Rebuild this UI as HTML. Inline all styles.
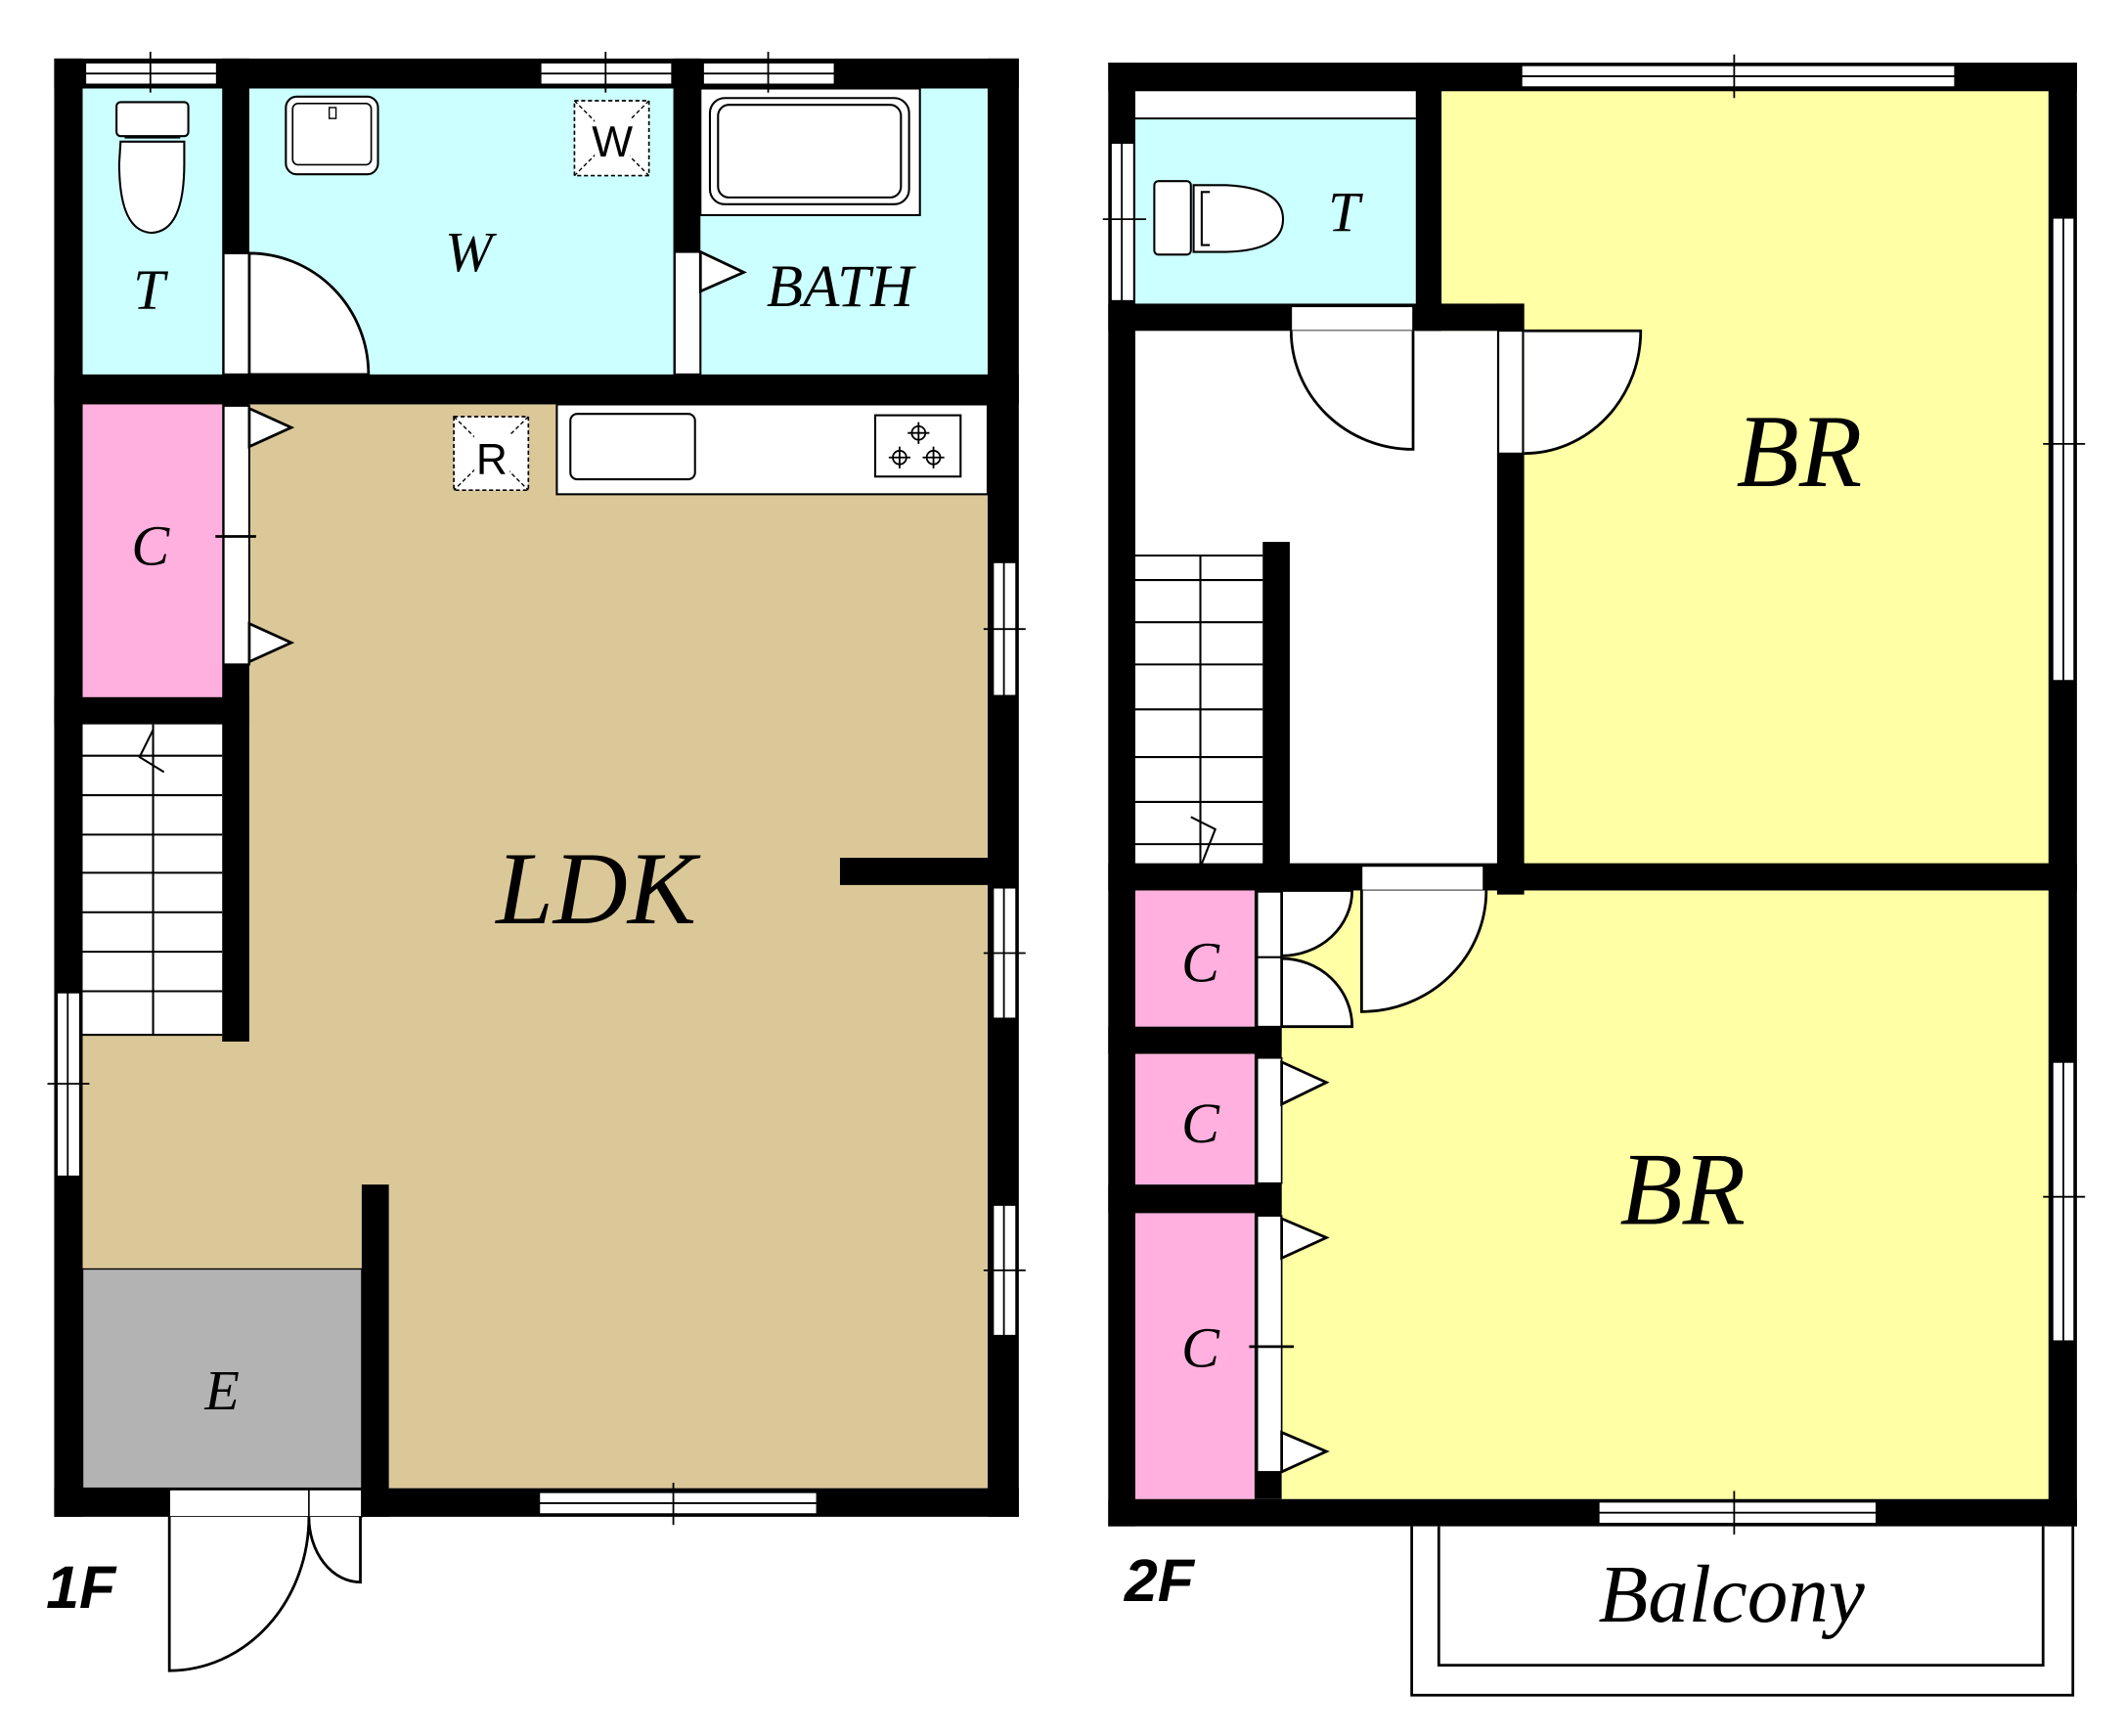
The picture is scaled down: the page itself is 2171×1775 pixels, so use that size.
<!DOCTYPE html>
<html><head><meta charset="utf-8"><style>
html,body{margin:0;padding:0;background:#fff;}
svg{display:block;}
.lbl{font-family:"Liberation Serif",serif;font-style:italic;fill:#000;}
.fl{font-family:"Liberation Sans",sans-serif;font-style:italic;font-weight:bold;fill:#000;}
</style></head><body>
<svg width="2171" height="1775" viewBox="0 0 1567 1275" preserveAspectRatio="none" xmlns="http://www.w3.org/2000/svg">
<!-- ============ 1F ============ -->
<rect x="61" y="65" width="668" height="212" fill="#ccffff"/>
<rect x="184" y="297" width="545" height="796" fill="#dbc899"/>
<rect x="61" y="760" width="206" height="175" fill="#dbc899"/>
<rect x="61" y="297" width="103" height="215" fill="#ffb0de"/>
<rect x="61" y="932" width="206" height="161" fill="#b3b3b3" stroke="#000" stroke-width="1"/>
<rect x="61" y="532" width="103" height="228" fill="#fff"/>
<g stroke="#000" stroke-width="1.5">
<line x1="113" y1="532" x2="113" y2="760"/>
<line x1="61" y1="555" x2="164" y2="555"/>
<line x1="61" y1="584" x2="164" y2="584"/>
<line x1="61" y1="613" x2="164" y2="613"/>
<line x1="61" y1="641" x2="164" y2="641"/>
<line x1="61" y1="670" x2="164" y2="670"/>
<line x1="61" y1="699" x2="164" y2="699"/>
<line x1="61" y1="728" x2="164" y2="728"/>
<line x1="61" y1="760" x2="164" y2="760"/>
<polyline points="113,536 103,556 121,567" fill="none"/>
</g>
<g fill="#000">
<rect x="40" y="43" width="712" height="22"/>
<rect x="40" y="1093" width="712" height="21"/>
<rect x="40" y="43" width="21" height="1071"/>
<rect x="729" y="43" width="23" height="1071"/>
<rect x="40" y="275" width="712" height="22"/>
<rect x="164" y="43" width="20" height="722"/>
<rect x="497" y="43" width="20" height="234"/>
<rect x="40" y="512" width="144" height="20"/>
<rect x="267" y="870" width="20" height="244"/>
<rect x="620" y="630" width="110" height="20"/>
</g>
<rect x="165" y="186" width="19" height="89" fill="#fff" stroke="#000" stroke-width="1.5"/>
<path d="M184 186 A88 89 0 0 1 272 275 L184 275 Z" fill="#fff" stroke="#000" stroke-width="2"/>
<rect x="498" y="185" width="19" height="90" fill="#fff" stroke="#000" stroke-width="1.5"/>
<polygon points="517,185 549,200 517,214" fill="#fff" stroke="#000" stroke-width="2"/>
<rect x="165" y="298" width="19" height="190" fill="#fff" stroke="#000" stroke-width="1.5"/>
<polygon points="184,300 215,314 184,328" fill="#fff" stroke="#000" stroke-width="2"/>
<polygon points="184,458 215,472 184,486" fill="#fff" stroke="#000" stroke-width="2"/>
<line x1="159" y1="394" x2="189" y2="394" stroke="#000" stroke-width="2"/>
<rect x="517" y="65" width="162" height="93" fill="#fff" stroke="#000" stroke-width="1.5"/>
<rect x="524" y="72" width="147" height="78" rx="11" fill="#fff" stroke="#000" stroke-width="1.5"/>
<rect x="530" y="77" width="135" height="68" rx="8" fill="#fff" stroke="#000" stroke-width="1.5"/>
<rect x="86" y="75" width="53" height="25" rx="3" fill="#fff" stroke="#000" stroke-width="1.5"/>
<path d="M89 104 L136 104 L136 120 Q136 170 112 171 Q88 170 88 120 Z" fill="#fff" stroke="#000" stroke-width="1.5"/>
<path d="M92 101 L133 101" stroke="#000" stroke-width="1.5"/>
<rect x="211" y="71" width="68" height="57" rx="8" fill="#fff" stroke="#000" stroke-width="1.5"/>
<rect x="216" y="76" width="58" height="45" rx="4" fill="#fff" stroke="#000" stroke-width="1.2"/>
<rect x="243" y="79" width="5" height="8" fill="#fff" stroke="#000" stroke-width="1"/>
<rect x="424" y="74" width="55" height="55" fill="#fff" stroke="#000" stroke-width="1.2" stroke-dasharray="3,2"/>
<g stroke="#000" stroke-width="1" stroke-dasharray="3,2"><line x1="424" y1="74" x2="479" y2="129"/><line x1="479" y1="74" x2="424" y2="129"/></g>
<rect x="439" y="84" width="26" height="34" fill="#fff"/>
<text x="452" y="115" font-family="Liberation Sans,sans-serif" font-size="32" text-anchor="middle">W</text>
<rect x="411" y="297" width="318" height="66" fill="#fff" stroke="#000" stroke-width="1.5"/>
<rect x="421" y="304" width="92" height="48" rx="5" fill="#fff" stroke="#000" stroke-width="1.5"/>
<rect x="646" y="305" width="63" height="45" fill="#fff" stroke="#000" stroke-width="1.5"/>
<g fill="none" stroke="#000" stroke-width="1.3">
<circle cx="678" cy="318" r="5"/><circle cx="664" cy="336" r="5"/><circle cx="689" cy="336" r="5"/>
<path d="M678 310v16M670 318h16M664 328v16M656 336h16M689 328v16M681 336h16"/>
</g>
<rect x="335" y="306" width="55" height="54" fill="#fff" stroke="#000" stroke-width="1.2" stroke-dasharray="3,2"/>
<g stroke="#000" stroke-width="1" stroke-dasharray="3,2"><line x1="335" y1="306" x2="390" y2="360"/><line x1="390" y1="306" x2="335" y2="360"/></g>
<rect x="350" y="316" width="26" height="34" fill="#fff"/>
<text x="363" y="348" font-family="Liberation Sans,sans-serif" font-size="32" text-anchor="middle">R</text>
<g fill="#fff" stroke="#000" stroke-width="1.2">
<rect x="63" y="46" width="97" height="16"/><rect x="399" y="46" width="97" height="16"/><rect x="519" y="46" width="97" height="16"/>
<rect x="733" y="413" width="17" height="98"/><rect x="733" y="652" width="17" height="96"/><rect x="733" y="885" width="17" height="96"/>
<rect x="42" y="729" width="17" height="135"/>
<rect x="398" y="1096" width="205" height="16"/>
</g>
<g stroke="#000" stroke-width="1.3">
<line x1="63" y1="54" x2="160" y2="54"/><line x1="111" y1="38" x2="111" y2="68"/>
<line x1="399" y1="54" x2="496" y2="54"/><line x1="447" y1="38" x2="447" y2="68"/>
<line x1="519" y1="54" x2="616" y2="54"/><line x1="567" y1="38" x2="567" y2="68"/>
<line x1="741" y1="413" x2="741" y2="511"/><line x1="726" y1="462" x2="757" y2="462"/>
<line x1="741" y1="652" x2="741" y2="748"/><line x1="726" y1="700" x2="757" y2="700"/>
<line x1="741" y1="885" x2="741" y2="981"/><line x1="726" y1="933" x2="757" y2="933"/>
<line x1="50" y1="729" x2="50" y2="864"/><line x1="35" y1="796" x2="66" y2="796"/>
<line x1="398" y1="1104" x2="603" y2="1104"/><line x1="497" y1="1089" x2="497" y2="1120"/>
</g>
<rect x="125" y="1094" width="142" height="20" fill="#fff" stroke="#000" stroke-width="1.2"/>
<line x1="228" y1="1094" x2="228" y2="1114" stroke="#000" stroke-width="1.2"/>
<path d="M125 1114 L125 1227 A103 113 0 0 0 228 1114" fill="#fff" stroke="#000" stroke-width="2"/>
<path d="M228 1114 A38 48 0 0 0 266 1162 L266 1114" fill="#fff" stroke="#000" stroke-width="2"/>
<text class="lbl" x="110" y="227" font-size="42" text-anchor="middle">T</text>
<text class="lbl" x="346" y="199" font-size="42" text-anchor="middle">W</text>
<text class="lbl" x="620" y="225" font-size="44" text-anchor="middle">BATH</text>
<text class="lbl" x="111" y="415" font-size="42" text-anchor="middle">C</text>
<text class="lbl" x="440" y="678" font-size="76" text-anchor="middle">LDK</text>
<text class="lbl" x="164" y="1035" font-size="42" text-anchor="middle">E</text>
<text class="fl" x="34" y="1181" font-size="44">1F</text>

<!-- ============ 2F ============ -->
<rect x="838" y="87" width="207" height="137" fill="#ccffff"/>
<rect x="838" y="67" width="207" height="20" fill="#fff"/>
<line x1="838" y1="87" x2="1045" y2="87" stroke="#000" stroke-width="1.5"/>
<rect x="1064" y="67" width="450" height="570" fill="#ffffa6"/>
<rect x="946" y="654" width="568" height="447" fill="#ffffa6"/>
<rect x="838" y="243" width="267" height="394" fill="#fff"/>
<rect x="838" y="654" width="88" height="100" fill="#ffb0de"/>
<rect x="838" y="774" width="88" height="96" fill="#ffb0de"/>
<rect x="838" y="891" width="88" height="210" fill="#ffb0de"/>
<g stroke="#000" stroke-width="1.5">
<line x1="886" y1="408" x2="886" y2="637"/>
<line x1="838" y1="408" x2="932" y2="408"/>
<line x1="838" y1="426" x2="932" y2="426"/>
<line x1="838" y1="457" x2="932" y2="457"/>
<line x1="838" y1="488" x2="932" y2="488"/>
<line x1="838" y1="521" x2="932" y2="521"/>
<line x1="838" y1="556" x2="932" y2="556"/>
<line x1="838" y1="589" x2="932" y2="589"/>
<line x1="838" y1="620" x2="932" y2="620"/>
<polyline points="879,600 897,609 886,637" fill="none"/>
</g>
<g fill="#000">
<rect x="818" y="46" width="715" height="21"/>
<rect x="818" y="1101" width="715" height="20"/>
<rect x="818" y="46" width="20" height="1075"/>
<rect x="1512" y="46" width="21" height="1075"/>
<rect x="1045" y="46" width="19" height="197"/>
<rect x="818" y="223" width="307" height="20"/>
<rect x="1105" y="223" width="20" height="434"/>
<rect x="932" y="398" width="20" height="259"/>
<rect x="818" y="634" width="715" height="20"/>
<rect x="818" y="754" width="128" height="20"/>
<rect x="818" y="870" width="128" height="21"/>
<rect x="926" y="654" width="20" height="447"/>
</g>
<rect x="953" y="225" width="90" height="18" fill="#fff" stroke="#000" stroke-width="1.2"/>
<path d="M953 243 A90 87 0 0 0 1043 330 L1043 243" fill="#fff" stroke="#000" stroke-width="2"/>
<rect x="1106" y="243" width="18" height="90" fill="#fff" stroke="#000" stroke-width="1.2"/>
<path d="M1125 243 L1211 243 A86 90 0 0 1 1125 333" fill="#fff" stroke="#000" stroke-width="2"/>
<rect x="1005" y="636" width="90" height="18" fill="#fff" stroke="#000" stroke-width="1.2"/>
<path d="M1005 654 L1005 743 A92 89 0 0 0 1097 654" fill="#fff" stroke="#000" stroke-width="2"/>
<rect x="928" y="655" width="18" height="99" fill="#fff" stroke="#000" stroke-width="1.2"/>
<path d="M946 654 L998 654 A52 48 0 0 1 946 702 Z" fill="#fff" stroke="#000" stroke-width="2"/>
<path d="M946 704 A52 50 0 0 1 998 754 L946 754 Z" fill="#fff" stroke="#000" stroke-width="2"/>
<line x1="928" y1="703" x2="946" y2="703" stroke="#000" stroke-width="1.5"/>
<rect x="928" y="777" width="18" height="92" fill="#fff" stroke="#000" stroke-width="1.2"/>
<polygon points="946,780 979,795 946,811" fill="#fff" stroke="#000" stroke-width="2"/>
<rect x="928" y="893" width="18" height="188" fill="#fff" stroke="#000" stroke-width="1.2"/>
<polygon points="946,895 979,909 946,924" fill="#fff" stroke="#000" stroke-width="2"/>
<polygon points="946,1052 979,1066 946,1081" fill="#fff" stroke="#000" stroke-width="2"/>
<line x1="922" y1="989" x2="955" y2="989" stroke="#000" stroke-width="2"/>
<rect x="852" y="133" width="27" height="54" rx="3" fill="#fff" stroke="#000" stroke-width="1.5"/>
<path d="M881 136 L905 136 Q947 138 947 161 Q947 184 905 185 L881 185 Z" fill="#fff" stroke="#000" stroke-width="1.5"/>
<path d="M893 141 L887 141 L887 180 L893 180" fill="none" stroke="#000" stroke-width="1.5"/>
<g fill="#fff" stroke="#000" stroke-width="1.2">
<rect x="1123" y="48" width="320" height="16"/>
<rect x="820" y="105" width="17" height="116"/>
<rect x="1515" y="160" width="16" height="340"/>
<rect x="1515" y="780" width="16" height="205"/>
<rect x="1180" y="1103" width="205" height="16"/>
</g>
<g stroke="#000" stroke-width="1.3">
<line x1="1123" y1="56" x2="1443" y2="56"/><line x1="1280" y1="40" x2="1280" y2="72"/>
<line x1="828" y1="105" x2="828" y2="221"/><line x1="814" y1="161" x2="846" y2="161"/>
<line x1="1523" y1="160" x2="1523" y2="500"/><line x1="1508" y1="326" x2="1539" y2="326"/>
<line x1="1523" y1="780" x2="1523" y2="985"/><line x1="1508" y1="879" x2="1539" y2="879"/>
<line x1="1180" y1="1111" x2="1385" y2="1111"/><line x1="1280" y1="1095" x2="1280" y2="1127"/>
</g>
<path d="M1042 1121 L1042 1245 L1530 1245 L1530 1121" fill="none" stroke="#000" stroke-width="2"/>
<path d="M1062 1121 L1062 1223 L1508 1223 L1508 1121" fill="none" stroke="#000" stroke-width="2"/>
<text class="lbl" x="992" y="170" font-size="42" text-anchor="middle">T</text>
<text class="lbl" x="1328" y="357" font-size="76" text-anchor="middle">BR</text>
<text class="lbl" x="1242" y="899" font-size="76" text-anchor="middle">BR</text>
<text class="lbl" x="886" y="721" font-size="42" text-anchor="middle">C</text>
<text class="lbl" x="886" y="839" font-size="42" text-anchor="middle">C</text>
<text class="lbl" x="886" y="1004" font-size="42" text-anchor="middle">C</text>
<text class="lbl" x="1278" y="1191" font-size="60" text-anchor="middle">Balcony</text>
<text class="fl" x="830" y="1176" font-size="44">2F</text>
</svg>
</body></html>
